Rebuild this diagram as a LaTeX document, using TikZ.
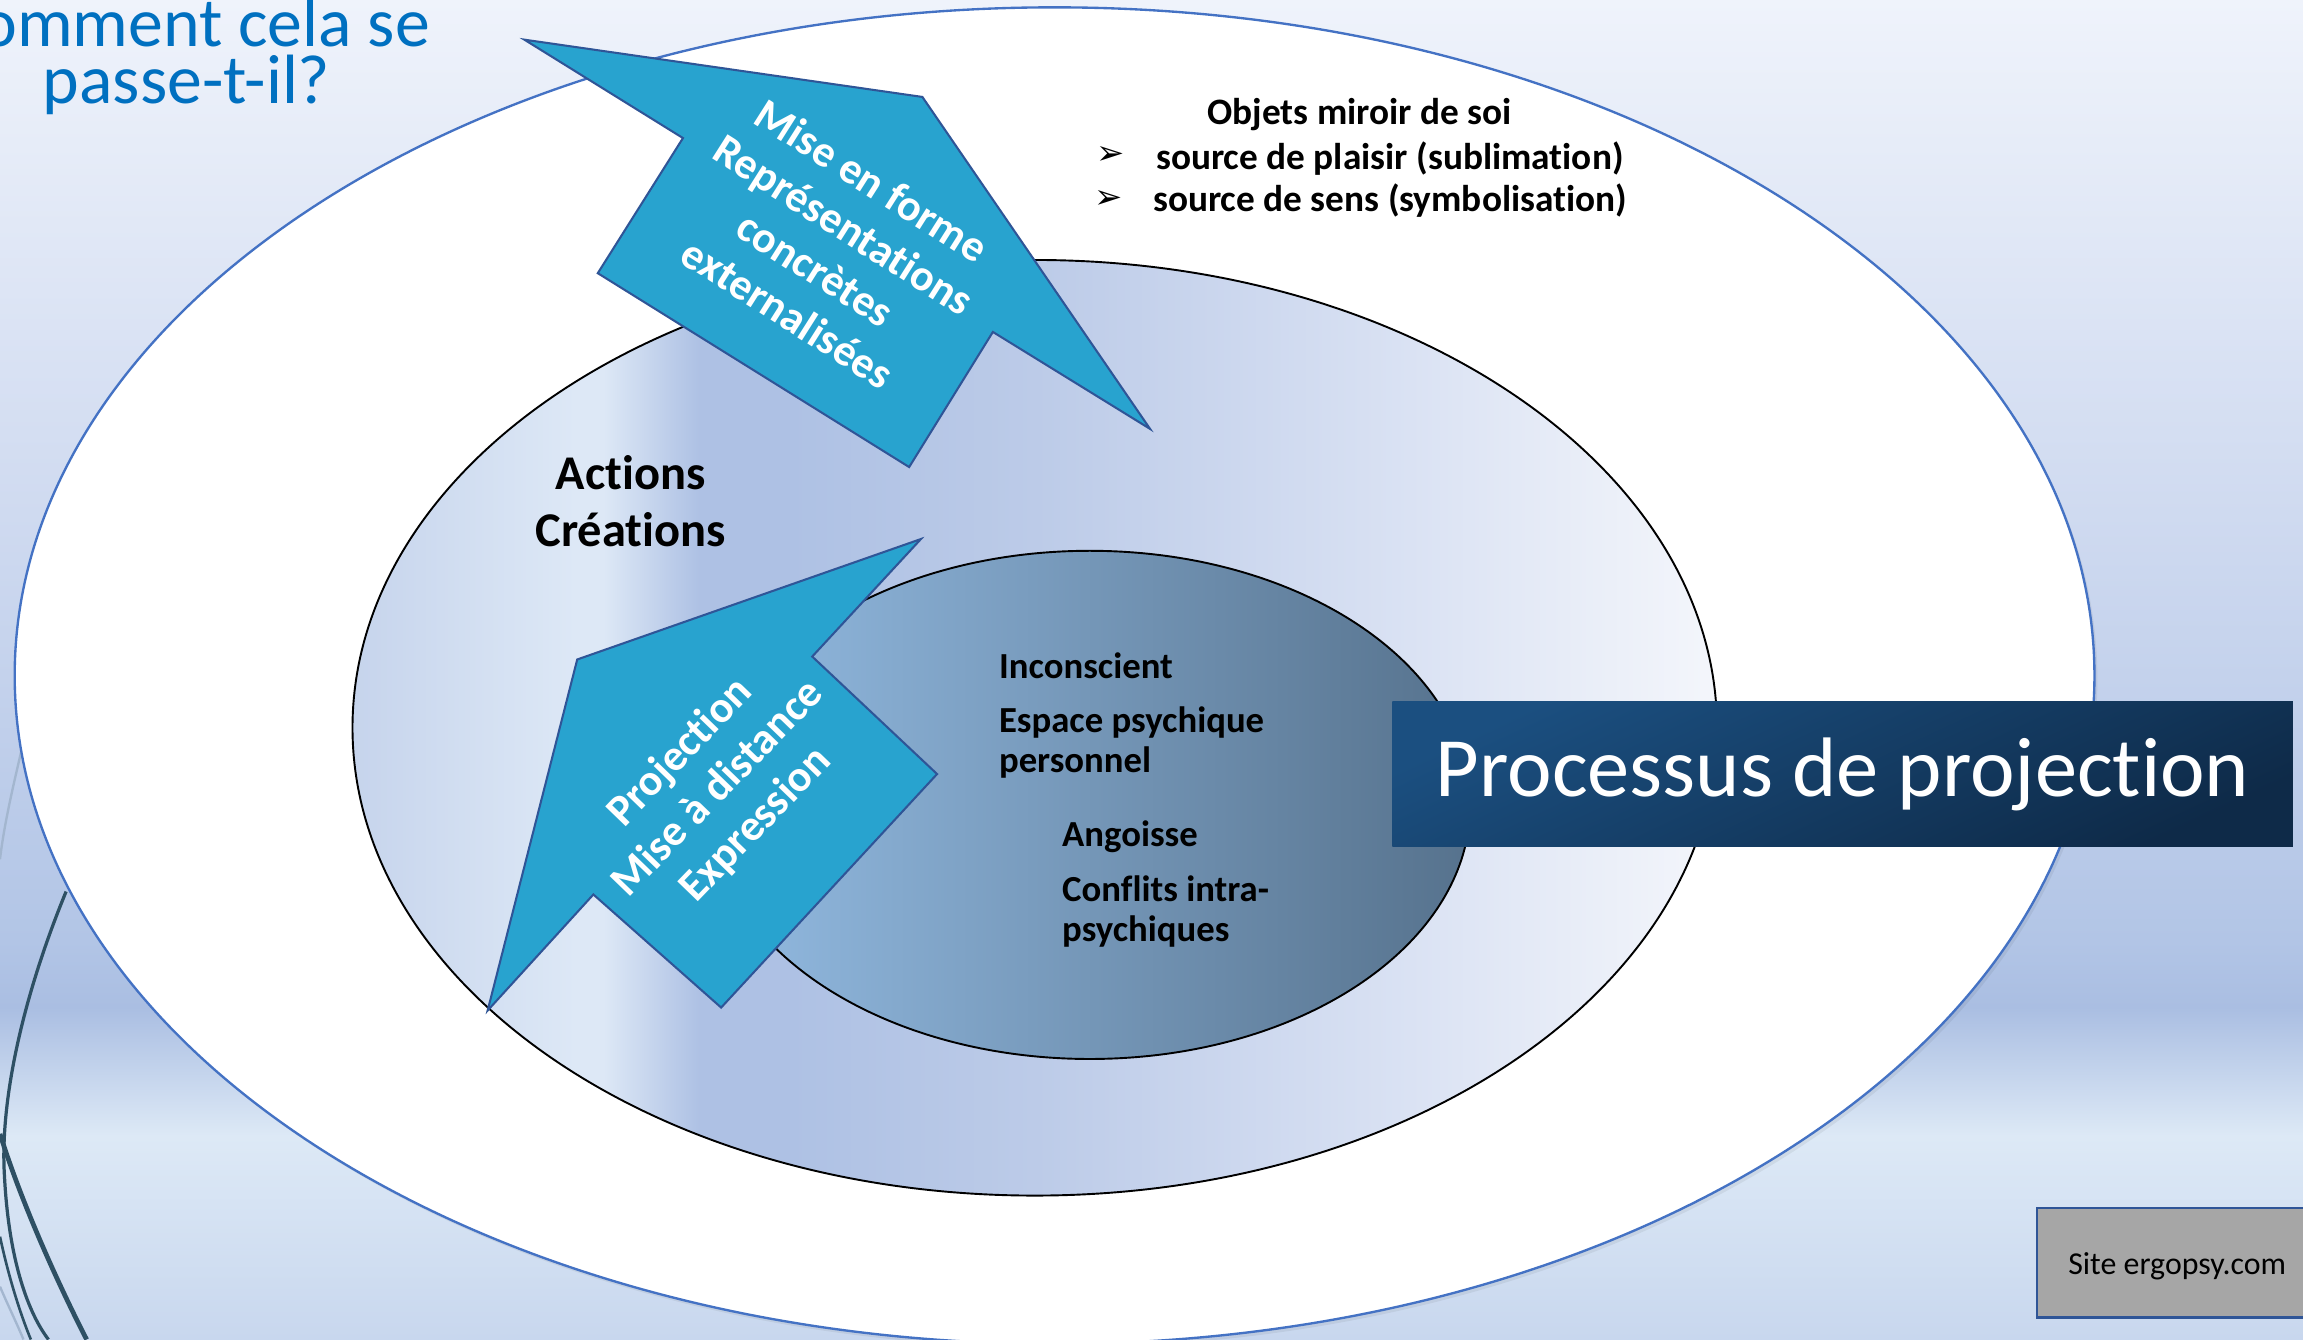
\documentclass[tikz,border=0pt]{standalone}
\usepackage{fontspec}
\setmainfont{Carlito}[Ligatures=NoCommon]
\newfontfamily\symfont{DejaVu Sans}
\definecolor{bgA}{HTML}{EFF3FB}
\definecolor{bgB}{HTML}{CFDAF0}
\definecolor{bgC}{HTML}{B2C5E6}
\definecolor{bgD}{HTML}{AABEE2}
\definecolor{bgE}{HTML}{DDE9F6}
\definecolor{bgF}{HTML}{C8D7EE}
\definecolor{mA}{HTML}{C6D4EC}
\definecolor{mB}{HTML}{DDE8F6}
\definecolor{mC}{HTML}{AEC1E4}
\definecolor{mD}{HTML}{BCCBE8}
\definecolor{mE}{HTML}{D6DFF2}
\definecolor{mF}{HTML}{F4F6FB}
\definecolor{inL}{HTML}{93BBE2}
\definecolor{inR}{HTML}{56728D}
\definecolor{arrowfill}{HTML}{28A3CF}
\definecolor{arrowdraw}{HTML}{2F5597}
\definecolor{outerblue}{HTML}{4472C4}
\definecolor{titleblue}{HTML}{0070C0}
\definecolor{decodark}{HTML}{2E5064}
\definecolor{decolight}{HTML}{A3B6CF}
\definecolor{procL}{HTML}{1B4F80}
\definecolor{procR}{HTML}{0E2A48}
\definecolor{sitegray}{HTML}{A6A6A6}
\pgfdeclareverticalshading{bgshade}{100bp}{color(0bp)=(bgF); color(25bp)=(bgF); color(32.6bp)=(bgE); color(37.4bp)=(bgD); color(39.9bp)=(bgC); color(55.8bp)=(bgB); color(75bp)=(bgA); color(100bp)=(bgA)}
\pgfdeclarehorizontalshading{midshade}{100bp}{color(0bp)=(mA); color(25bp)=(mA); color(33.2bp)=(mB); color(34.2bp)=(mB); color(37.7bp)=(mC); color(41bp)=(mC); color(50bp)=(mD); color(62bp)=(mE); color(75bp)=(mF); color(100bp)=(mF)}
\begin{document}
\begin{tikzpicture}[x=1bp,y=-1bp,
  decodark/.style={draw=decodark,line width=2.2bp},
  decolight/.style={draw=decolight,line width=1.6bp},
  blockarrow/.style={fill=arrowfill,draw=arrowdraw,line width=1.4bp,line join=miter},
  arrowtext/.style={text=white,font=\bfseries\fontsize{30bp}{35.6bp}\selectfont,align=center,inner sep=0pt},
  bigbold/.style={font=\bfseries\fontsize{33bp}{39bp}\selectfont,inner sep=0pt,anchor=base},
  innertext/.style={font=\bfseries\fontsize{25bp}{30bp}\selectfont,inner sep=0pt,anchor=base west},
  toptext/.style={font=\bfseries\fontsize{25.4bp}{30bp}\selectfont,inner sep=0pt,anchor=base west},
  bulletmark/.style={font=\symfont\fontsize{23bp}{26bp}\selectfont,inner sep=0pt},
  titletext/.style={text=titleblue,font=\fontsize{47.5bp}{50bp}\selectfont,inner sep=0pt,anchor=base}
]
\useasboundingbox (0,0) rectangle (1568,912);
% background
\shade[shading=bgshade] (0,0) rectangle (1568,912);
% decorative curves of the slide theme
\draw[decolight] (16,505) .. controls (9,535) and (3,560) .. (0,585);
\draw[decolight] (0,876) .. controls (6,890) and (11,900) .. (16,912);
\draw[decodark] (45,607) .. controls (15,680) and (0,750) .. (3,800) .. controls (6,860) and (20,895) .. (33,912);
\draw[decodark,line width=3.2bp] (0,772) .. controls (15,820) and (40,875) .. (59,912);
\draw[decodark,line width=1.8bp] (0,842) .. controls (6,870) and (14,895) .. (21,912);
% outer ellipse
\fill[black,opacity=0.06] (720,462.5) ellipse [x radius=708, y radius=455];
\filldraw[fill=white,draw=outerblue,line width=1.6bp] (718,460) ellipse [x radius=708, y radius=455];
% middle ellipse
\shadedraw[shading=midshade,draw=black,line width=1.3bp] (704.5,495.5) ellipse [x radius=464.5, y radius=318.5];
% inner ellipse
\shadedraw[left color=inL,right color=inR,draw=black,line width=1.3bp] (742,548) ellipse [x radius=259, y radius=173];
% block arrows
\filldraw[blockarrow] (357,27) -- (628,66) -- (783,292) -- (676,226) -- (619,318) -- (407,186) -- (465,94) -- cycle;
\filldraw[blockarrow] (332,688) -- (393,449) -- (627,367) -- (553,447) -- (638,527) -- (491,686) -- (404,609) -- cycle;
\node[arrowtext,rotate=-32.4] (uptext) at (565,168) {Mise en forme\\Représentations\\concrètes\\externalisées};
\node[arrowtext,rotate=46] (lowtext) at (489,537) {Projection\\Mise à distance\\Expression};
% title
\node[titletext] (title1) at (127,31.5) {Comment cela se};
\node[titletext] (title2) at (127,70.5) {passe-t-il?};
% middle texts
\node[bigbold] (actions) at (429.5,333) {Actions};
\node[bigbold] (creations) at (429.5,372) {Créations};
% inner texts
\node[innertext] (incons) at (680,462) {Inconscient};
\node[innertext] (espace) at (680,499) {Espace psychique};
\node[innertext] (perso) at (680,526) {personnel};
\node[innertext] (angoisse) at (723,576) {Angoisse};
\node[innertext] (conflits) at (723,614) {Conflits intra-};
\node[innertext] (psych) at (723,641) {psychiques};
% top texts
\node[toptext] (objets) at (822,85) {Objets miroir de soi};
\node[bulletmark] (b1) at (756,106) {➢};
\node[toptext] (plaisir) at (787,115.5) {source de plaisir (sublimation)};
\node[bulletmark] (b2) at (755,136) {➢};
\node[toptext] (sens) at (785,144) {source de sens (symbolisation)};
% title box
\node[shade,left color=procL,right color=procR,shading angle=25,minimum width=613bp,minimum height=98.7bp,inner sep=0pt,
      text=white,font=\fontsize{57.5bp}{60bp}\selectfont] (proc) at (1254.5,527) {Processus de projection};
% site box
\filldraw[fill=sitegray,draw=arrowdraw,line width=1.4bp] (1387,822.6) rectangle (1580,897);
\node[font=\fontsize{21.7bp}{24bp}\selectfont,inner sep=0pt,anchor=base west] (site) at (1408,868) {Site ergopsy.com};
\end{tikzpicture}
\end{document}
